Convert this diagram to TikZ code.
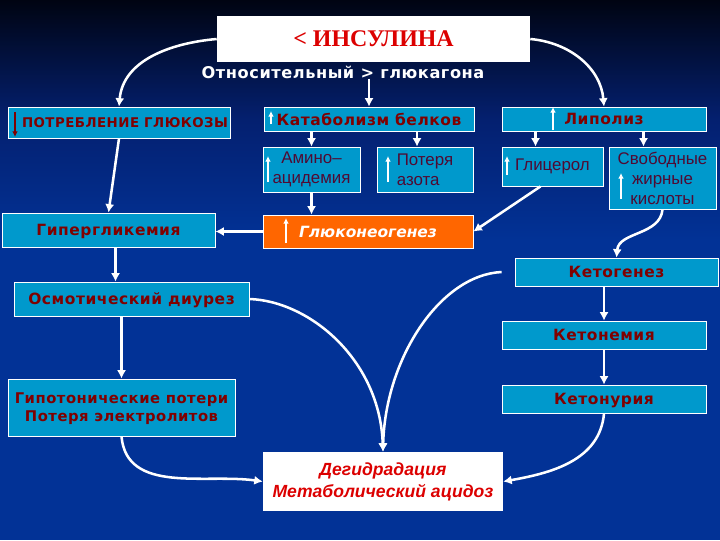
\documentclass[tikz,border=0pt]{standalone}
\usepackage{fontspec}
\setmainfont{Liberation Sans}
\newfontfamily\heavyfont{DejaVu Sans}[LetterSpace=3.5]
\newfontfamily\obliquefont{DejaVu Sans}
\newfontfamily\titlefont{Liberation Serif}
\usetikzlibrary{arrows.meta}

\definecolor{bgtop}{RGB}{0,4,18}
\definecolor{bgmid}{RGB}{4,32,112}
\definecolor{bgmain}{RGB}{2,50,150}
\definecolor{boxblue}{RGB}{0,153,204}
\definecolor{darkred}{RGB}{128,0,0}
\definecolor{plumtext}{RGB}{80,10,50}
\definecolor{orangebox}{RGB}{255,102,0}
\definecolor{titlered}{RGB}{220,0,0}

\tikzset{
  sz/.style 2 args={minimum width=#1*0.025cm, minimum height=#2*0.025cm},
  box/.style={draw=white, line width=0.6pt, fill=boxblue, inner sep=0pt},
  heavy/.style={font=\heavyfont\bfseries\fontsize{11}{13}\selectfont, text=darkred, text depth=0pt},
  plain/.style={font=\fontsize{12}{14.2}\selectfont, text=plumtext, align=center},
  arr/.style={draw=white, line width=1.8pt, -{Latex[length=6pt,width=6.5pt]}},
  uparr/.style={draw=white, line width=1.2pt, -{Latex[length=4pt,width=4pt]}},
}

\begin{document}
\begin{tikzpicture}[x=0.025cm, y=-0.025cm]
%%%%%%%%%%%%%%%%%%%
% background
\useasboundingbox (0,0) rectangle (720,540);
\shade[top color=bgtop, bottom color=bgmain, middle color=bgmid] (0,0) rectangle (720,240);
\fill[bgmain] (0,239) rectangle (720,540);

%%%%%%%%%%%%%%%%%%%
% top
\node[fill=white, sz={313}{46}, font=\titlefont\bfseries\fontsize{17}{20}\selectfont, text=titlered] (insulin) at (373.5,39) {< ИНСУЛИНА};
\node[font=\heavyfont\bfseries\fontsize{11.5}{13}\selectfont, text=white, inner sep=0pt] (gluc) at (343,72) {Относительный > глюкагона};

%%%%%%%%%%%%%%%%%%%
% boxes
\node[box, heavy, sz={222}{31}, font=\heavyfont\bfseries\fontsize{9.5}{11}\selectfont] (potr) at (119,122.5) {\hspace*{8.5pt}ПОТРЕБЛЕНИЕ ГЛЮКОЗЫ};
\node[box, heavy, sz={210}{24}] (katab) at (369,119) {Катаболизм белков};
\node[box, heavy, sz={204}{24}] (lipol) at (604,119) {Липолиз};

\node[box, plain, sz={97}{45}] (amino) at (311.5,169.5) {Амино–\\ацидемия};
\node[box, plain, sz={96}{45}, align=left] (azot) at (425,169.5) {Потеря\\азота};
\node[box, plain, sz={101}{39}] (glic) at (552.5,166.5) {Глицерол};
\node[box, plain, sz={107}{62}] (fatty) at (662.5,178) {Свободные\\жирные\\кислоты};

\node[box, heavy, sz={213}{34}] (hyper) at (108.5,230) {Гипергликемия};
\node[box, fill=orangebox, sz={210}{33}, font=\obliquefont\bfseries\itshape\fontsize{11}{13}\selectfont, text=white] (gneo) at (368,231.5) {Глюконеогенез};

\node[box, heavy, sz={235}{34}] (osm) at (131.5,299) {Осмотический диурез};
\node[box, heavy, align=center, sz={227}{57}, font=\heavyfont\bfseries\fontsize{10.5}{12.8}\selectfont] (hypo) at (121.5,407.5) {Гипотонические потери\\Потеря электролитов};

\node[box, heavy, sz={203}{28}] (ketog) at (616.5,272) {Кетогенез};
\node[box, heavy, sz={204}{28}] (ketonem) at (604,335) {Кетонемия};
\node[box, heavy, sz={204}{28}] (ketonur) at (604,399) {Кетонурия};

\node[fill=white, sz={240}{59}, align=center, font=\bfseries\itshape\fontsize{12.5}{15.6}\selectfont, text=titlered] (dehyd) at (383,481.5) {Дегидрадация\\Метаболический ацидоз};

%%%%%%%%%%%%%%%%%%%
% small arrows in the boxes
\draw[uparr] (271,124) -- (271,111);
\draw[uparr] (268,182) -- (268,156);
\draw[uparr] (388,182) -- (388,156);
\draw[uparr] (507,175) -- (507,156);
\draw[uparr] (621,199) -- (621,173);
\draw[uparr] (553,130) -- (553,107);
\draw[uparr] (286,243) -- (286,218);
\draw[uparr, draw=darkred] (15,112) -- (15,137);

%%%%%%%%%%%%%%%%%%%
% connectors
\draw[arr] (insulin.west) to[out=185,in=85] (potr.north);
\draw[arr] (insulin.east) to[out=-5,in=95] (lipol.north);
\draw[arr] (gluc.south -| katab.north) -- (katab.north);

\draw[arr] (katab.south -| amino.north) -- (amino.north);
\draw[arr] ([xshift=-0.2cm]azot.north |- katab.south) -- ([xshift=-0.2cm]azot.north);
\draw[arr] ([xshift=-0.425cm]glic.north |- lipol.south) -- ([xshift=-0.425cm]glic.north);
\draw[arr] ([xshift=-0.475cm]fatty.north |- lipol.south) -- ([xshift=-0.475cm]fatty.north);

\draw[arr] (amino.south) -- (amino.south |- gneo.north);
\draw[arr] (gneo.west) -- (gneo.west -| hyper.east);
\draw[arr] ([xshift=-0.3cm]glic.south) -- (gneo.east);
\draw[arr] (fatty.south) to[out=-95,in=85] (ketog.north);

\draw[arr] (potr.south) -- (hyper.north);
\draw[arr] ([xshift=0.175cm]hyper.south) -- ([xshift=0.175cm]hyper.south |- osm.north);
\draw[arr] (hypo.north |- osm.south) -- (hypo.north);
\draw[arr] (ketonem.north |- ketog.south) -- (ketonem.north);
\draw[arr] (ketonem.south) -- (ketonur.north);

\draw[arr] (hypo.south) to[out=-85,in=172] (dehyd.west);
\draw[arr] (ketonur.south) to[out=-95,in=10] (dehyd.east);
\draw[arr] (osm.east) .. controls +(60,2) and +(-3,-92) .. (dehyd.north);
\draw[arr] ([xshift=-0.325cm]ketog.west) .. controls +(-62,3) and +(2,-92) .. (dehyd.north);

\end{tikzpicture}
\end{document}
